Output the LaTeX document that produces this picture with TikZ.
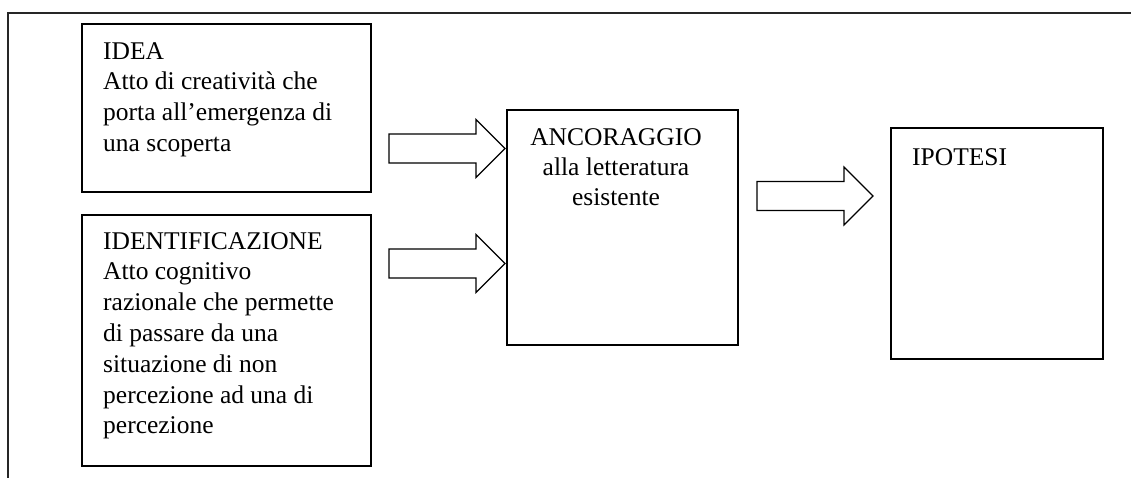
\documentclass[tikz,border=0pt]{standalone}
\usepackage{fontspec}
\setmainfont{Liberation Serif}
\begin{document}
\begin{tikzpicture}[x=1pt,y=-1pt,
  box/.style={draw, line width=1.5pt, inner sep=0pt},
  frameline/.style={line width=1.6pt, color=black!85},
  blockarrow/.style={draw, line width=1.2pt, line join=miter},
  txt/.style={inner sep=0pt, anchor=north west, align=left, font=\fontsize{25.5}{30.8}\selectfont},
  ctxt/.style={inner sep=0pt, anchor=north, align=center, font=\fontsize{25.5}{30.3}\selectfont}]
\useasboundingbox (0,0) rectangle (1131,478);
\fill[white] (0,0) rectangle (1131,478);
% outer frame (top and left only)
\coordinate (ftop) at (1131,13);
\coordinate (fcorner) at (8,13);
\coordinate (fbot) at (8,478);
\draw[frameline] (ftop) -- (fcorner) -- (fbot);
% boxes
\node[box, minimum width=289, minimum height=168] (idea) at (226.5,108) {};
\node[box, minimum width=289, minimum height=251] (ident) at (226.5,340.5) {};
\node[box, minimum width=231, minimum height=235] (ancor) at (622.5,227.5) {};
\node[box, minimum width=212, minimum height=231] (ipot) at (997,243.5) {};
% texts
\node[txt] (ideatxt) at (103,42) {IDEA\\Atto di creatività che\\porta all’emergenza di\\una scoperta};
\node[txt] (identtxt) at (103,232) {IDENTIFICAZIONE\\Atto cognitivo\\razionale che permette\\di passare da una\\situazione di non\\percezione ad una di\\percezione};
\node[ctxt] (ancortxt) at (616,128) {ANCORAGGIO\\alla letteratura\\esistente};
\node[txt] (ipottxt) at (912,148) {IPOTESI};
% block arrows
\newcommand{\blockarr}[3]{%
  \draw[blockarrow] (#1,{#3-14.5}) -- ({#2-29},{#3-14.5}) -- ({#2-29},{#3-29}) -- (#2,#3)
    -- ({#2-29},{#3+29}) -- ({#2-29},{#3+14.5}) -- (#1,{#3+14.5}) -- cycle;}
\blockarr{389}{505}{148.5}
\blockarr{389}{505}{263.5}
\blockarr{757}{873}{196}
\end{tikzpicture}
\end{document}
